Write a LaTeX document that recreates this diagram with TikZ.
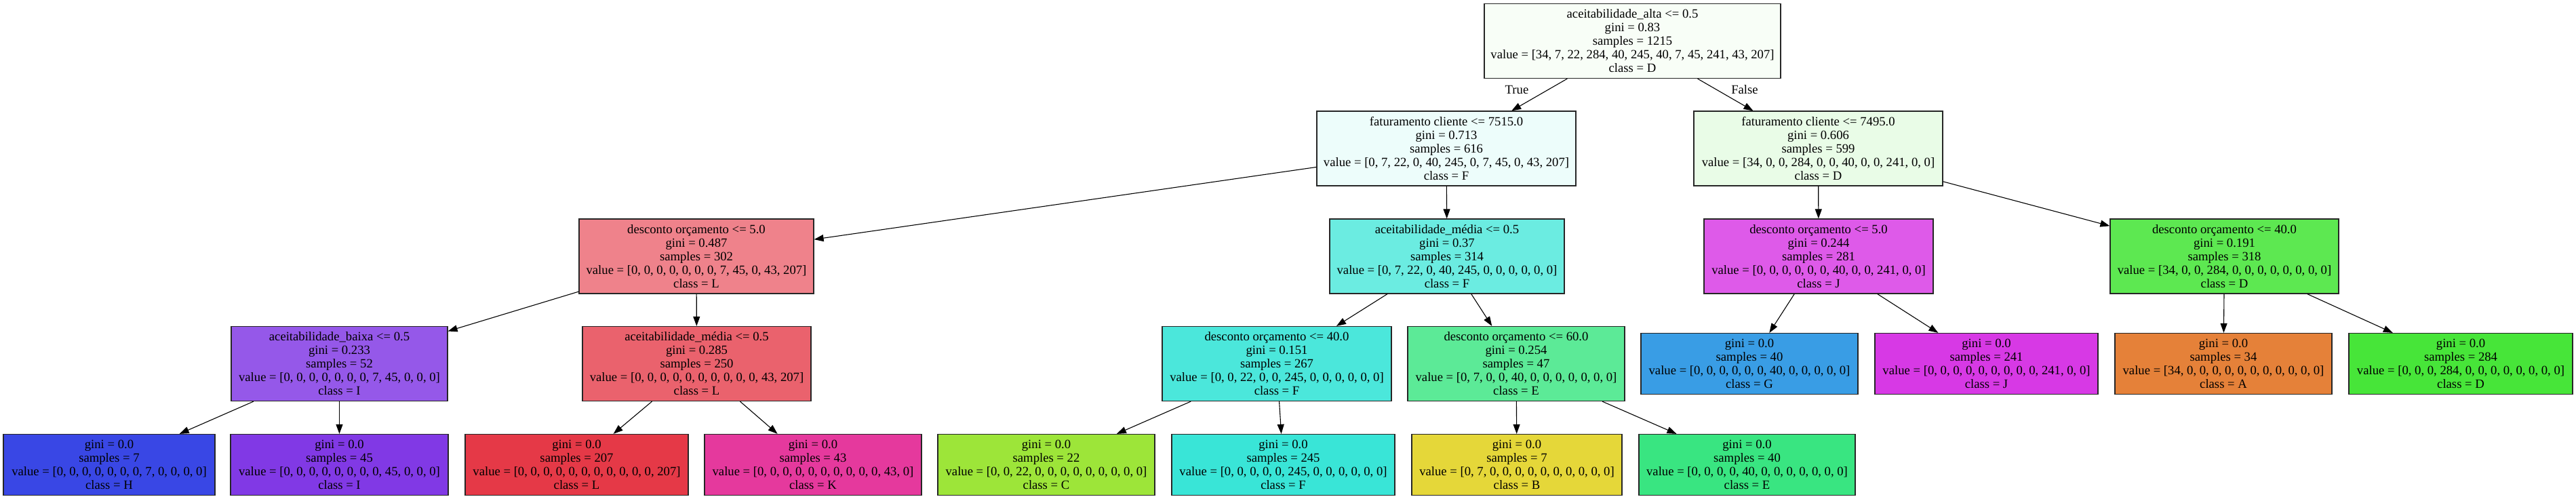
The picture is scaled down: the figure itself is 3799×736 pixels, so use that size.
\documentclass[tikz,border=0pt]{standalone}
\usepackage{fontspec}
\setmainfont{Liberation Serif}
\usetikzlibrary{arrows.meta}
\definecolor{cRoot}{HTML}{F8FEF7}
\definecolor{cNa}{HTML}{EDFDFB}
\definecolor{cNb}{HTML}{E9FCE7}
\definecolor{cLfive}{HTML}{EF828B}
\definecolor{cFmed}{HTML}{6BECE1}
\definecolor{cJfive}{HTML}{DE5AE9}
\definecolor{cDforty}{HTML}{5DE851}
\definecolor{cIbaixa}{HTML}{9558E9}
\definecolor{cLmed}{HTML}{EA626D}
\definecolor{cFforty}{HTML}{4BE7DB}
\definecolor{cEsixty}{HTML}{5CEA97}
\definecolor{kA}{HTML}{E58139}
\definecolor{kB}{HTML}{E5D739}
\definecolor{kC}{HTML}{9DE539}
\definecolor{kD}{HTML}{47E539}
\definecolor{kE}{HTML}{39E581}
\definecolor{kF}{HTML}{39E5D7}
\definecolor{kG}{HTML}{399DE5}
\definecolor{kH}{HTML}{3947E5}
\definecolor{kI}{HTML}{8139E5}
\definecolor{kJ}{HTML}{D739E5}
\definecolor{kK}{HTML}{E5399D}
\definecolor{kL}{HTML}{E53947}
\tikzset{
  tn/.style={draw=black!85, line width=1.2pt, rectangle, align=center,
    font=\fontsize{18.67}{20}\selectfont, inner xsep=4pt, inner ysep=0pt,
    minimum height=110pt},
  leaf/.style={tn, minimum height=90pt},
  arr/.style={line width=1.1pt, -{Triangle[length=14pt,width=10pt]}},
  elab/.style={font=\fontsize{18.67}{20}\selectfont}
}
\begin{document}
\begin{tikzpicture}[x=1pt,y=-1pt]
\useasboundingbox (0,0) rectangle (3799,736);
% row 0
\node[tn, fill=cRoot, minimum width=437pt] (root) at (2407.5,60.5) {aceitabilidade\_alta <= 0.5\\gini = 0.83\\samples = 1215\\value = [34, 7, 22, 284, 40, 245, 40, 7, 45, 241, 43, 207]\\class = D};
% row 1
\node[tn, fill=cNa, minimum width=382pt] (na) at (2133,219) {faturamento cliente <= 7515.0\\gini = 0.713\\samples = 616\\value = [0, 7, 22, 0, 40, 245, 0, 7, 45, 0, 43, 207]\\class = F};
\node[tn, fill=cNb, minimum width=367pt] (nb) at (2681.5,219) {faturamento cliente <= 7495.0\\gini = 0.606\\samples = 599\\value = [34, 0, 0, 284, 0, 0, 40, 0, 0, 241, 0, 0]\\class = D};
% row 2
\node[tn, fill=cLfive, minimum width=346pt] (lfive) at (1027,378) {desconto orçamento <= 5.0\\gini = 0.487\\samples = 302\\value = [0, 0, 0, 0, 0, 0, 0, 7, 45, 0, 43, 207]\\class = L};
\node[tn, fill=cFmed, minimum width=346pt] (fmed) at (2134,378) {aceitabilidade\_média <= 0.5\\gini = 0.37\\samples = 314\\value = [0, 7, 22, 0, 40, 245, 0, 0, 0, 0, 0, 0]\\class = F};
\node[tn, fill=cJfive, minimum width=338pt] (jfive) at (2682,378) {desconto orçamento <= 5.0\\gini = 0.244\\samples = 281\\value = [0, 0, 0, 0, 0, 0, 40, 0, 0, 241, 0, 0]\\class = J};
\node[tn, fill=cDforty, minimum width=337pt] (dforty) at (3280.5,378) {desconto orçamento <= 40.0\\gini = 0.191\\samples = 318\\value = [34, 0, 0, 284, 0, 0, 0, 0, 0, 0, 0, 0]\\class = D};
% row 3
\node[tn, fill=cIbaixa, minimum width=319pt] (ibaixa) at (500.5,536.5) {aceitabilidade\_baixa <= 0.5\\gini = 0.233\\samples = 52\\value = [0, 0, 0, 0, 0, 0, 0, 7, 45, 0, 0, 0]\\class = I};
\node[tn, fill=cLmed, minimum width=337pt] (lmed) at (1027.5,536.5) {aceitabilidade\_média <= 0.5\\gini = 0.285\\samples = 250\\value = [0, 0, 0, 0, 0, 0, 0, 0, 0, 0, 43, 207]\\class = L};
\node[tn, fill=cFforty, minimum width=338pt] (fforty) at (1883,536.5) {desconto orçamento <= 40.0\\gini = 0.151\\samples = 267\\value = [0, 0, 22, 0, 0, 245, 0, 0, 0, 0, 0, 0]\\class = F};
\node[tn, fill=cEsixty, minimum width=320pt] (esixty) at (2236,536.5) {desconto orçamento <= 60.0\\gini = 0.254\\samples = 47\\value = [0, 7, 0, 0, 40, 0, 0, 0, 0, 0, 0, 0]\\class = E};
\node[leaf, fill=kG, minimum width=320pt] (lg) at (2580,536.5) {gini = 0.0\\samples = 40\\value = [0, 0, 0, 0, 0, 0, 40, 0, 0, 0, 0, 0]\\class = G};
\node[leaf, fill=kJ, minimum width=329pt] (lj) at (2929.5,536.5) {gini = 0.0\\samples = 241\\value = [0, 0, 0, 0, 0, 0, 0, 0, 0, 241, 0, 0]\\class = J};
\node[leaf, fill=kA, minimum width=320pt] (la) at (3279,536.5) {gini = 0.0\\samples = 34\\value = [34, 0, 0, 0, 0, 0, 0, 0, 0, 0, 0, 0]\\class = A};
\node[leaf, fill=kD, minimum width=330pt] (ld) at (3629,536.5) {gini = 0.0\\samples = 284\\value = [0, 0, 0, 284, 0, 0, 0, 0, 0, 0, 0, 0]\\class = D};
% row 4
\node[leaf, fill=kH, minimum width=312pt] (lh) at (161,685.5) {gini = 0.0\\samples = 7\\value = [0, 0, 0, 0, 0, 0, 0, 7, 0, 0, 0, 0]\\class = H};
\node[leaf, fill=kI, minimum width=321pt] (li) at (500.5,685.5) {gini = 0.0\\samples = 45\\value = [0, 0, 0, 0, 0, 0, 0, 0, 45, 0, 0, 0]\\class = I};
\node[leaf, fill=kL, minimum width=329pt] (ll) at (850.5,685.5) {gini = 0.0\\samples = 207\\value = [0, 0, 0, 0, 0, 0, 0, 0, 0, 0, 0, 207]\\class = L};
\node[leaf, fill=kK, minimum width=320pt] (lk) at (1199,685.5) {gini = 0.0\\samples = 43\\value = [0, 0, 0, 0, 0, 0, 0, 0, 0, 0, 43, 0]\\class = K};
\node[leaf, fill=kC, minimum width=320pt] (lc) at (1543,685.5) {gini = 0.0\\samples = 22\\value = [0, 0, 22, 0, 0, 0, 0, 0, 0, 0, 0, 0]\\class = C};
\node[leaf, fill=kF, minimum width=329pt] (lf) at (1892.5,685.5) {gini = 0.0\\samples = 245\\value = [0, 0, 0, 0, 0, 245, 0, 0, 0, 0, 0, 0]\\class = F};
\node[leaf, fill=kB, minimum width=310pt] (lb) at (2237,685.5) {gini = 0.0\\samples = 7\\value = [0, 7, 0, 0, 0, 0, 0, 0, 0, 0, 0, 0]\\class = B};
\node[leaf, fill=kE, minimum width=319pt] (le) at (2576.5,685.5) {gini = 0.0\\samples = 40\\value = [0, 0, 0, 0, 40, 0, 0, 0, 0, 0, 0, 0]\\class = E};
% edges
\draw[arr] (root) -- (na);
\draw[arr] (root) -- (nb);
\node[elab] (ltrue) at (2237,132) {True};
\node[elab] (lfalse) at (2573,132) {False};
\draw[arr] (na) -- (lfive);
\draw[arr] (na) -- (fmed);
\draw[arr] (nb) -- (jfive);
\draw[arr] (nb) -- (dforty);
\draw[arr] (lfive) -- (ibaixa);
\draw[arr] (lfive) -- (lmed);
\draw[arr] (fmed) -- (fforty);
\draw[arr] (fmed) -- (esixty);
\draw[arr] (jfive) -- (lg);
\draw[arr] (jfive) -- (lj);
\draw[arr] (dforty) -- (la);
\draw[arr] (dforty) -- (ld);
\draw[arr] (ibaixa) -- (lh);
\draw[arr] (ibaixa) -- (li);
\draw[arr] (lmed) -- (ll);
\draw[arr] (lmed) -- (lk);
\draw[arr] (fforty) -- (lc);
\draw[arr] (fforty) -- (lf);
\draw[arr] (esixty) -- (lb);
\draw[arr] (esixty) -- (le);
\end{tikzpicture}
\end{document}
